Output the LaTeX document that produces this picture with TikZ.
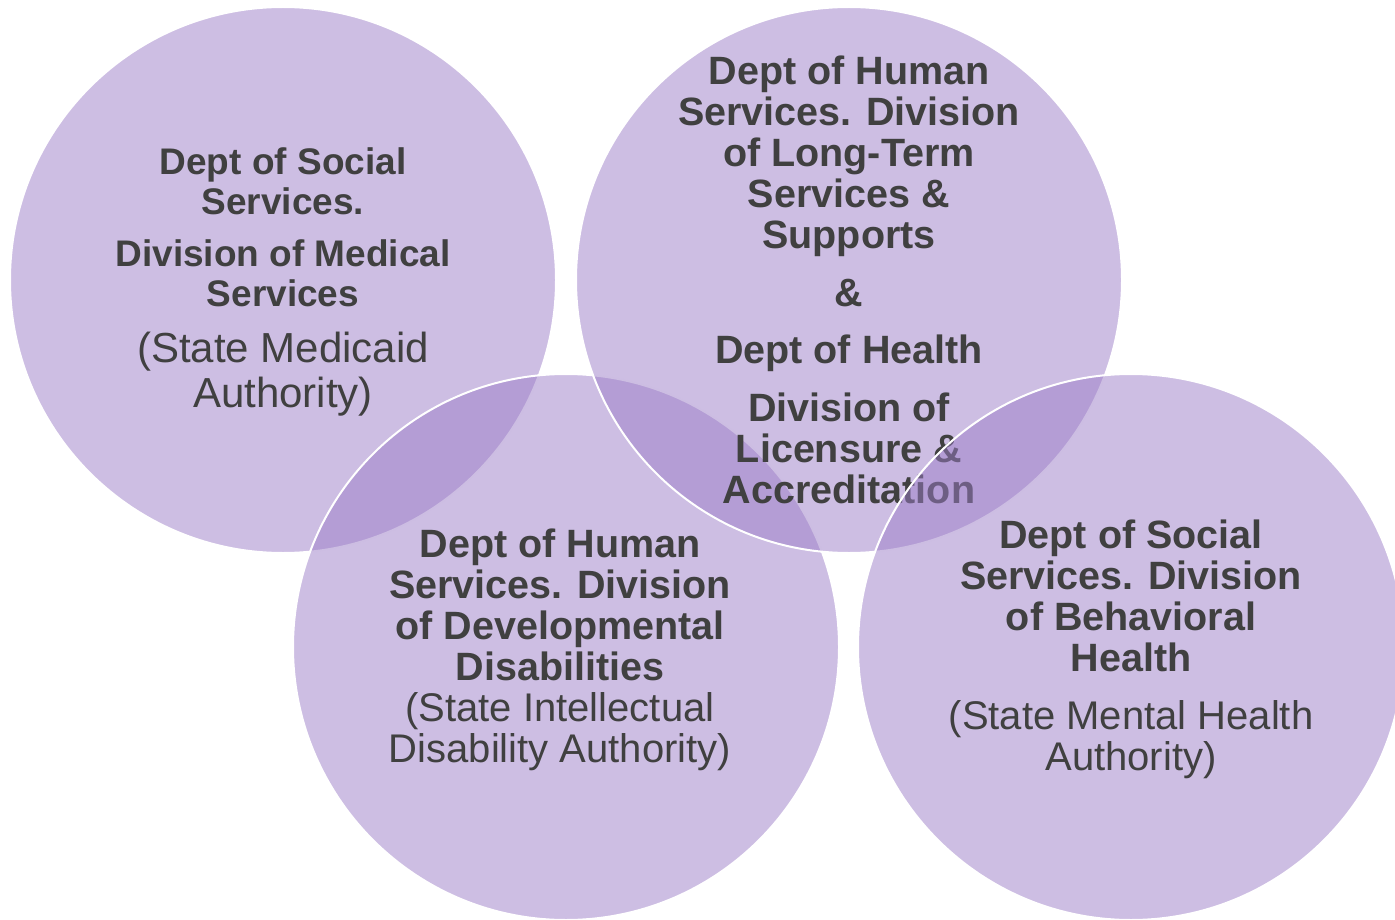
\documentclass[tikz,border=0pt]{standalone}
\usepackage{fontspec}
\setmainfont{Liberation Sans}
\definecolor{bubblefill}{RGB}{155,125,199}
\definecolor{ink}{RGB}{64,64,64}
\newcommand{\regtext}{\mdseries\fontsize{40}{41}\selectfont}

\begin{document}
\begin{tikzpicture}
[x=1pt,y=-1pt,
bubble/.style={circle, draw=white, line width=2pt, fill=bubblefill,
fill opacity=0.5, minimum size=546pt, inner sep=0pt},
agency/.style={text=ink, align=center, inner sep=0pt,
font=\bfseries\fontsize{39.5}{41}\selectfont}]
\useasboundingbox (0,0) rectangle (1395,920);
% the four circles, back to front
\node [bubble] (medical) at (283,280) {};
\node [bubble] (devdis)  at (566,647) {};
\node [bubble] (ltss)    at (849,280) {};
% this text sits under the last circle
\node [agency] (ltsstext) at (ltss.center) {Dept of Human\\ Services. Division\\ of Long-Term\\ Services \&\\ Supports\\[17pt] \&\\[16pt] Dept of Health\\[17pt] Division of\\ Licensure \&\\ Accreditation};
\node [bubble] (behav)   at (1131,647) {};
% texts of the other circles
\node [agency, yshift=-2pt, font=\bfseries\fontsize{37}{40}\selectfont] (medicaltext) at (medical.center)
{Dept of Social\\ Services.\\[12pt] Division of Medical\\ Services\\[16pt] {\regtext\fontsize{42}{44}\selectfont (State Medicaid}\\[5pt] {\regtext\fontsize{42}{44}\selectfont Authority)}};
\node [agency, xshift=-6pt, yshift=-2.5pt] (devdistext) at (devdis.center)
{Dept of Human\\ Services. Division\\ of Developmental\\ Disabilities\\ {\regtext (State Intellectual}\\ {\regtext Disability Authority)}};
\node [agency, yshift=-2.5pt] (behavtext) at (behav.center)
{Dept of Social\\ Services. Division\\ of Behavioral\\ Health\\[17pt] {\regtext (State Mental Health}\\ {\regtext Authority)}};
\end{tikzpicture}
\end{document}
